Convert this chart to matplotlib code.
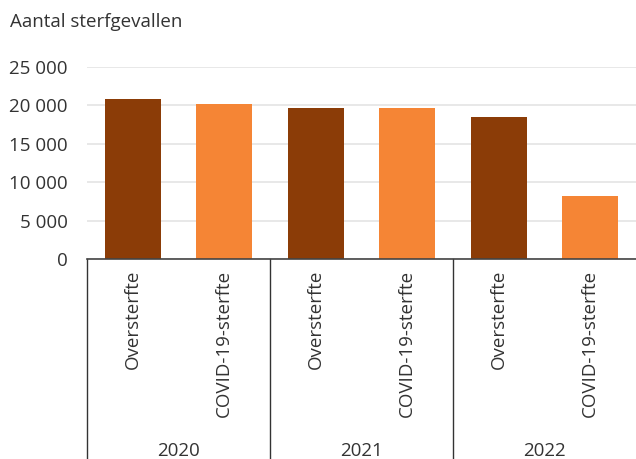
import matplotlib.pyplot as plt
import matplotlib.transforms as mtransforms
import numpy as np

# Data
years = ['2020', '2021', '2022']
categories = ['Oversterfte', 'COVID-19-sterfte']
oversterfte = [20800, 19700, 18500]
covid = [20200, 19700, 8200]
yticks = [0, 5000, 10000, 15000, 20000, 25000]

dark = '#8b3c07'
orange = '#f58535'
text_col = '#333333'
fs = 13.5

plt.rcParams['font.family'] = ['Open Sans', 'DejaVu Sans']

fig = plt.figure(figsize=(6.36, 4.59), dpi=100)
left, bottom, top = 87 / 636, 1 - 259 / 459, 1 - 67 / 459
ax = fig.add_axes([left, bottom, 1 - left, top - bottom])

# interleave values: year by year, oversterfte then covid
values = []
colors = []
labels = []
for o, c in zip(oversterfte, covid):
    values += [o, c]
    colors += [dark, orange]
    labels += categories
x = np.arange(len(values))

ax.bar(x, values, width=0.61, color=colors, zorder=2)
ax.set_xlim(-0.5, len(values) - 0.5)
ax.set_ylim(0, 25000)
ax.set_yticks(yticks)
ax.set_yticklabels([f'{v:,}'.replace(',', ' ') for v in yticks])
ax.tick_params(axis='y', length=0, pad=14, labelsize=fs, labelcolor=text_col)
ax.set_xticks([])
ax.grid(axis='y', color='#e6e6e6', linewidth=1.3, zorder=0)
for s in ['left', 'right', 'top']:
    ax.spines[s].set_visible(False)
ax.spines['bottom'].set_color('#444444')
ax.spines['bottom'].set_linewidth(1.2)
ax.spines['bottom'].set_zorder(3)

trans = mtransforms.blended_transform_factory(ax.transData, ax.transAxes)
h = top - bottom
fig_bottom = -bottom / h

# category labels
for xi, lab in zip(x, labels):
    ax.text(xi, (1 - 270 / 459 - bottom) / h, lab, transform=trans, rotation=90,
            ha='center', va='top', fontsize=fs, color=text_col)

# group dividers and year labels
for i, yr in enumerate(years):
    ax.plot([2 * i - 0.5, 2 * i - 0.5], [0, fig_bottom], transform=trans,
            color='#333333', linewidth=1, clip_on=False)
    ax.text(2 * i + 0.5, (1 - 451 / 459 - bottom) / h, yr, transform=trans,
            ha='center', va='center', fontsize=fs, color=text_col)

fig.text(10 / 636, 1 - 22 / 459, 'Aantal sterfgevallen', ha='left', va='center',
         fontsize=fs, color=text_col)

fig.savefig('out.png', dpi=100)
